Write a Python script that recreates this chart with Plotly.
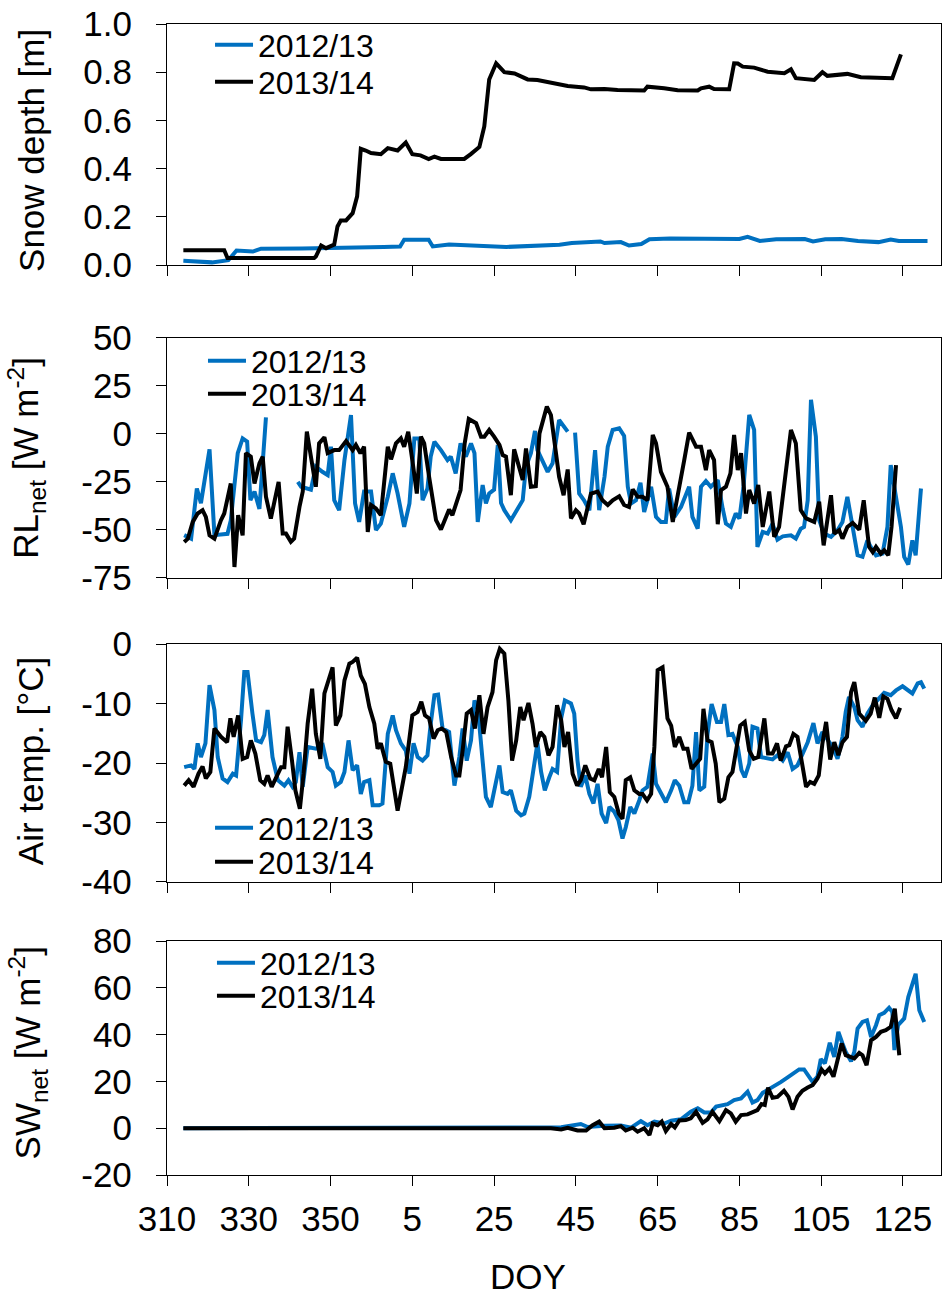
import plotly.graph_objects as go

BLUE = "#0070C0"
BLACK = "#000000"
FONT = "Liberation Sans, Arial, sans-serif"

SEASONS = ["2012/13", "2013/14"]
SEASON_COLORS = [BLUE, BLACK]

# x ticks, labelled by day of year (DOY)
DOY_TICKS = [310, 330, 350, 5, 25, 45, 65, 85, 105, 125]

# Series are (day, value) pairs. "day" is the day of year of the autumn,
# counted on past 365 into the new year (e.g. 370 = DOY 5).

# Snow depth [m]
SNOW_1213 = [
    (314, 0.018), (317, 0.016), (321, 0.011), (325, 0.02), (327, 0.06), (331, 0.056),
    (333, 0.068), (343, 0.069), (351, 0.07), (363, 0.075), (367, 0.077), (368, 0.105),
    (374, 0.105), (375, 0.077), (379, 0.085), (387, 0.08), (393, 0.075), (406, 0.084),
    (409, 0.091), (416, 0.098), (417, 0.091), (421, 0.095), (423, 0.081), (426, 0.087),
    (428, 0.107), (433, 0.11), (446, 0.108), (450, 0.108), (452, 0.117), (455, 0.1),
    (459, 0.107), (466, 0.108), (468, 0.098), (471, 0.107), (475, 0.108), (479, 0.1),
    (484, 0.095), (487, 0.106), (489, 0.1), (496, 0.1),
]
SNOW_1314 = [
    (314, 0.061), (324, 0.061), (324.8, 0.029), (346, 0.029), (346.4, 0.035), (347.7, 0.081),
    (348.9, 0.07), (350.1, 0.08), (350.9, 0.085), (351.7, 0.16), (352.5, 0.185), (353.8, 0.185),
    (355.4, 0.215), (356.5, 0.285), (357.4, 0.482), (358.6, 0.475), (359.9, 0.465), (362.3, 0.46),
    (364, 0.485), (366.4, 0.475), (368.4, 0.508), (370, 0.46), (372, 0.455), (374, 0.44),
    (375.4, 0.45), (377, 0.44), (382.7, 0.44), (384.3, 0.46), (386.4, 0.49), (387.6, 0.575),
    (388.8, 0.77), (390.5, 0.837), (392.5, 0.80), (395, 0.795), (398.2, 0.77), (400.6, 0.768),
    (403.1, 0.76), (408, 0.743), (412, 0.737), (413.7, 0.729), (417, 0.73), (420.2, 0.726),
    (426.7, 0.724), (427.5, 0.74), (431.6, 0.733), (434.9, 0.725), (439.8, 0.724), (440.6, 0.733),
    (442.6, 0.74), (443.8, 0.73), (447.5, 0.729), (448.7, 0.837), (449.6, 0.836), (450.8, 0.823),
    (453.6, 0.819), (456.9, 0.802), (461, 0.796), (462.6, 0.812), (463.8, 0.775), (468.3, 0.768),
    (470.3, 0.80), (471.5, 0.785), (476.4, 0.793), (479.7, 0.779), (487.4, 0.775), (489.5, 0.874),
]

# Net longwave radiation [W m-2]; None marks missing days
RL_1213 = [
    (314.2, -52.7), (315.9, -54.5), (317.3, -28.4), (318.3, -36), (320.4, -8), (321.6, -52.7),
    (324.8, -52), (325.6, -45), (327.3, -10), (328.5, -2.3), (329.6, -4), (330.4, -34.5),
    (331.4, -30), (332.6, -39), (334.2, 8.7), (338, None), (342, -25), (342.8, -27.5),
    (345.2, -29), (346.4, -17), (348, -19.7), (349.3, -21.4), (350.1, -6.6), (350.9, -34.5),
    (352.1, -39.7), (353.4, -13.6), (355, 9.9), (356, -36.2), (357, -45.8), (358.2, -30),
    (359.9, -30), (361.1, -50), (362.3, -46.7), (364, -32.7), (365.2, -20.5), (366.4, -31),
    (368, -48.4), (369.3, -36.2), (370.5, -2.3), (371.7, -2.3), (372.5, -34.5), (373.7, -28.4),
    (374.5, -11.8), (375.4, -4), (377, -8.4), (378.6, -13.6), (379.4, -11.8), (380.6, -20.5),
    (381.8, -4.9), (383.1, -11.8), (384.35, -4.9), (385.2, -10), (386, -45.8), (387.2, -26.6),
    (388, -36.2), (388.8, -31), (390, -29), (390.9, -5.7), (391.7, -36), (392.5, -39.7),
    (394.1, -44.9), (397, -34.5), (397.8, -17), (399, -10), (400, 1.6), (400.6, -8.4),
    (403.1, -19.7), (404.3, -15.3), (405.9, 7.3), (408, 1.2), (409, None), (409.8, 0.7),
    (410.8, -31), (412, -34.5), (413.3, -39.7), (414.7, -8.4), (415.7, -39.7), (417, -22.3),
    (417.8, -6.6), (419, 2.1), (420.6, 3), (421.8, -1), (422.7, -27.5), (423.5, -36.2),
    (424.7, -34.5), (425.8, -25.4), (426.7, -40.6), (428.4, -27.5), (429.6, -43.2), (430.8, -45.8),
    (432, -45.8), (432.8, -28.4), (434.1, -43.2), (435.7, -38), (437.7, -27.5), (438.5, -43.2),
    (439.8, -49.3), (440.6, -27.5), (441.8, -24.5), (443, -27.5), (444.7, -24), (445.9, -38.8),
    (446.7, -46.7), (447.9, -48.4), (449.1, -41.4), (450, -44), (451, -27.5), (452.4, 9.9),
    (453.6, 2.1), (454.4, -58.8), (455.7, -51), (456.9, -51.9), (458.1, -46.7), (459.3, -55),
    (460.6, -53.3), (462.6, -52.8), (463.8, -54.5), (465, -49.3), (465.8, -48.4), (466.7, -34.5),
    (467.5, 17.8), (468.7, -1.4), (469.5, -44.9), (470.7, -51.9), (472.4, -53.6), (474, -50.1),
    (475.2, -45.8), (476.4, -32.7), (477.7, -48.4), (478.9, -63.2), (480.1, -64), (481.3, -55.4),
    (482.1, -58.8), (483.4, -63.2), (485, -62.3), (486.2, -48.4), (487, -16.2), (488.3, -32.7),
    (489.5, -48.4), (490.3, -64), (491.3, -68), (492.3, -55.4), (493.1, -63.2), (494.4, -28.4),
]
RL_1314 = [
    (314.2, -56.2), (315.1, -54.5), (316.3, -45.8), (317.5, -41.4), (318.7, -39.7), (319.5, -43.2),
    (320.4, -52.8), (321.6, -54.5), (323.2, -44.9), (324, -41.4), (325.6, -25.8), (326.5, -69.3),
    (327.4, -42.3), (328.5, -52.8), (329.3, -10), (330.5, -11.8), (331.4, -25.8), (332.6, -15.3),
    (333.4, -11.8), (334.2, -32.7), (335.4, -44), (336.2, -36.2), (337.3, -24.9), (338.3, -51.9),
    (339.1, -51.9), (340.3, -56.2), (341.1, -54.5), (342.4, -38), (343.2, -30), (344.2, 1.2),
    (345.2, -12.7), (346.4, -27.5), (347.2, -4.9), (348.5, -1.7), (349.3, -10), (350.9, -8.4),
    (352.1, -8.4), (353.8, -3.7), (355.4, -8.4), (356.2, -5.7), (357.3, -10), (358.2, -6.6),
    (359.1, -51), (359.9, -37), (361.1, -38.8), (362.3, -42.3), (364, -6.6), (364.8, -13.2),
    (366, -4.9), (367.2, -2.3), (368, -6.6), (369, 1.2), (370, -13.6), (371.1, -31),
    (372.1, -1.4), (372.9, -4.9), (374.1, -22.3), (375.8, -44.9), (377, -49.8), (379, -39.3),
    (379.8, -42.3), (381.8, -29.2), (382.8, -4.9), (383.8, 7.8), (385.6, 5.6), (386.8, -1.4),
    (387.6, -1.4), (388.8, 2.1), (390, -1.4), (391.3, -5.7), (392.1, -11), (392.9, -11.8),
    (394.1, -31.9), (394.9, -8), (397, -24), (397.8, -7.5), (399, -27.5), (400.2, -27.2),
    (401.1, 0.3), (402.9, 14.3), (403.9, 9.9), (405.1, -11.8), (405.9, -22.3), (407, -31.9),
    (408, -18.5), (408.8, -44), (410, -39.7), (410.8, -41.4), (411.9, -47), (413.7, -31),
    (415.3, -30), (416.5, -34.5), (417.8, -37), (419, -34.5), (420.6, -32.4), (421.8, -37),
    (423, -38), (423.9, -28.9), (425.1, -32.7), (426.3, -32.7), (427.5, -34.5), (428.8, -0.5),
    (429.6, -4.9), (430.8, -19.7), (432.4, -27.5), (433.7, -45.8), (435.3, -28.4), (436.5, -13.6),
    (437.7, 0.7), (439.4, -6.6), (440.6, -6.6), (441.8, -18.8), (442.6, -8.4), (443.8, -13.6),
    (444.7, -47), (445.5, -29.2), (446.7, -27.5), (447.8, -20.5), (448.7, -0.5), (449.6, -18.8),
    (450.4, -10), (451.6, -41.4), (452.4, -29.2), (453.6, -36.2), (454.6, -26.6), (455.7, -48.4),
    (457.3, -30), (458.5, -53.6), (459.7, -48.4), (461, -24), (462.6, 2.1), (463.8, -4.9),
    (465, -39.7), (466.3, -44), (468.3, -45.8), (469.5, -35.3), (470.6, -58), (472.4, -31.9),
    (473.2, -51.9), (474.4, -50.1), (475.2, -54.5), (476.4, -48.4), (477.7, -46.3), (479.3, -49.8),
    (480.4, -34.5), (481.7, -58.8), (482.6, -61.5), (483.4, -58.8), (484.6, -62.3), (485.4, -60.6),
    (486.4, -63.2), (487.2, -48.4), (488.3, -16.2),
]

# Air temperature [°C]
TA_1213 = [
    (314.2, -20.7), (315.9, -20.4), (316.7, -21), (317.5, -16.7), (318.3, -19), (319.4, -16.7),
    (320.4, -6.9), (321.6, -11.1), (322.4, -19), (323.6, -22.6), (324.8, -23.2), (326.1, -21.8),
    (326.9, -22.1), (328.1, -12.8), (328.9, -4.7), (329.7, -4.7), (330.9, -11.7), (331.8, -16.2),
    (333, -16.5), (333.8, -15.3), (334.6, -11.1), (335.8, -19), (337.1, -22.9), (338.7, -23.8),
    (339.7, -22.9), (340.7, -24), (341.5, -23.2), (342.4, -18.2), (343.2, -24), (344.4, -17.3),
    (346.4, -17.6), (348.1, -17), (349.3, -20.7), (350.5, -21.5), (351.3, -23.8), (352.5, -23.2),
    (353.4, -21.5), (354.4, -16.2), (355.4, -21.2), (356.5, -20.4), (357.4, -25.2), (358.2, -23.2),
    (359.5, -22.9), (360.3, -27.1), (361.9, -27.1), (362.7, -26.8), (364, -15.1), (365.2, -12),
    (366, -14.5), (367.2, -16.7), (368.4, -17.9), (369.3, -21.8), (370.3, -16.7), (371.3, -19),
    (372.5, -19.6), (373.7, -18.7), (374.5, -13.4), (375.4, -8.6), (376.3, -8.5), (377.4, -14.2),
    (379, -14.8), (380.3, -23.8), (381.5, -19), (382.3, -14.2), (383.3, -19.6), (384.35, -16.2),
    (385.2, -9.5), (386, -10.6), (386.8, -16.7), (388, -25.7), (389.2, -27.4), (390.5, -23.2),
    (391.3, -20.4), (392.1, -24.9), (393.3, -25.2), (394.1, -24.6), (395.4, -28), (396.6, -28.8),
    (397.4, -28.5), (398.6, -25.7), (399.8, -19.8), (400.6, -16.7), (401.5, -21.5), (402.4, -24.6),
    (403.5, -22.4), (404.3, -21), (405.4, -21.5), (406.4, -12.5), (407.3, -9.5), (408.8, -10),
    (409.6, -11.7), (410.4, -19.6), (411.2, -24), (412.3, -22.1), (413.3, -25.2), (414.3, -26.8),
    (415.3, -23.5), (416.3, -28.5), (417.4, -30.1), (418.2, -27.4), (419.4, -28.2), (420.4, -29.6),
    (421.4, -32.7), (422.2, -30.8), (423.3, -27.4), (424.3, -28.5), (425.5, -26.3), (426.3, -24.6),
    (427.5, -24), (428.8, -18.4), (429.6, -23.5), (430.8, -25.2), (432, -26.6), (433.3, -24.6),
    (434.2, -22.9), (435.3, -23.8), (436.5, -26.6), (437.5, -26.6), (438.5, -23.8), (439.4, -14.8),
    (440.2, -24.6), (441.4, -24), (442.2, -15.1), (443.2, -10.1), (444.5, -13.1), (445.5, -13.1),
    (446.3, -10.1), (447.3, -15.3), (448.3, -15.1), (449.6, -17.3), (450.5, -21.2), (451.3, -22.4),
    (452.4, -20.1), (453.2, -13.9), (454.4, -14.2), (455.3, -19), (456.9, -19.3), (458.1, -19.4),
    (459.3, -18.7), (460.6, -19.6), (461.8, -18.2), (463, -21), (464.2, -20.4), (465.4, -18.4),
    (466.7, -16.5), (468.1, -13.3), (469.1, -16.7), (470.3, -14.8), (471.6, -16.2), (472.8, -17.3),
    (474, -19.3), (475.2, -15.6), (476, -11.4), (476.8, -8.9), (478.1, -10.6), (478.9, -12.8),
    (480.1, -13.9), (481.3, -11.7), (482.6, -10.3), (483.8, -9.5), (485.4, -8.2), (487, -8.6),
    (488.3, -7.8), (489.9, -7.1), (491.1, -7.7), (492.3, -8.3), (493.6, -6.6), (494.4, -6.4),
    (495.2, -7.5),
]
TA_1314 = [
    (314.2, -23.8), (315.3, -22.9), (316.5, -24), (317.7, -21.8), (318.7, -20.6), (319.5, -22.6),
    (320.6, -21.5), (321.6, -14.2), (323.2, -15.6), (324.7, -16.5), (325.5, -12.5), (326.3, -15.6),
    (327.4, -12), (328.5, -19.3), (329.6, -19), (330.5, -16.2), (331.6, -18.4), (332.8, -22.9),
    (333.8, -23.5), (334.6, -22.1), (335.6, -24), (336.7, -22.4), (337.9, -20.7), (338.7, -20.7),
    (339.5, -13.9), (340.6, -19.8), (341.4, -24.6), (342.5, -27.7), (343.4, -21.8), (344.4, -13.4),
    (345.5, -7.5), (346.4, -15.1), (347.5, -19.3), (348.5, -8.3), (349.7, -5.8), (350.5, -3.9),
    (351.3, -13.7), (352.4, -12), (353.4, -6.1), (354.6, -3.3), (355.4, -3), (356.5, -2.3),
    (357.4, -5.3), (358.4, -6.7), (359.5, -10.6), (360.7, -13.4), (361.5, -17.6), (362.3, -16.7),
    (363.5, -19.8), (364.6, -20.1), (366.4, -28), (368.4, -20.7), (370, -12), (371.3, -11.4),
    (372.2, -9.7), (373.1, -12), (374.1, -12.5), (375.2, -15.9), (376.2, -14.5), (377.2, -14.2),
    (378.3, -14.8), (379.5, -19), (380.7, -22.1), (381.5, -22.1), (382.3, -17.9), (383.3, -11.7),
    (384.35, -11.1), (385.3, -14.2), (386.4, -8.6), (387.4, -15.1), (388.4, -10.6), (389.6, -8.1),
    (390.5, -2.7), (391.4, -0.8), (392.5, -1.6), (393.5, -9.5), (394.4, -19.6), (395.4, -16.2),
    (396.4, -10.6), (397.2, -12.8), (398.4, -9.9), (399.4, -13.4), (400.2, -17.3), (401.3, -14.8),
    (402.3, -15.6), (403.3, -18.7), (404.3, -17.3), (405.4, -10.3), (406.4, -12.8), (407.2, -17.3),
    (408.1, -14.8), (409.2, -21.8), (410.3, -23.8), (411.2, -22.9), (412.3, -20.4), (413.5, -22.6),
    (414.5, -22.9), (415.6, -21), (416.4, -22.4), (417.4, -17.3), (418.3, -24.9), (419.4, -25.7),
    (420.5, -28.5), (421.4, -29.4), (422.2, -22.9), (423.3, -22.4), (424.3, -24.6), (425.5, -25.2),
    (426.3, -25.2), (427.4, -26.3), (428.4, -25.2), (429.2, -17.3), (430, -4.4), (431.2, -3.9),
    (432.4, -12.5), (433.3, -13.7), (434.2, -17.3), (435.3, -15.6), (436.3, -17.6), (437.3, -17.6),
    (438.3, -21), (439.4, -20.1), (440.4, -19.3), (441.2, -10.9), (442.2, -16.2), (443.2, -16.5),
    (444.2, -20.1), (445.1, -26.6), (446.3, -26), (447.3, -22.4), (448.3, -21.5), (449.4, -17),
    (450.2, -13.7), (451.3, -13.1), (452.4, -17.9), (453.5, -19.3), (454.6, -19), (456.1, -12.5),
    (457, -18.4), (458.1, -18.4), (459.2, -16.7), (460.1, -19.6), (461.4, -17.2), (462.2, -17),
    (463.2, -15.1), (464.2, -15.6), (465.2, -19.6), (466.3, -24), (467.3, -23.2), (468.3, -23.5),
    (469.4, -22.1), (470.3, -16.7), (471.2, -13.1), (472.2, -19.4), (473.2, -16.5), (474.2, -18.7),
    (475.2, -16.5), (476.3, -15.6), (477.3, -8.1), (478.1, -6.4), (479.3, -11.7), (480.9, -12.9),
    (482.1, -11.7), (483.1, -9), (484.2, -12.4), (485.2, -8.8), (486.2, -9.2), (487.2, -11.1),
    (488.3, -12.5), (489.3, -10.7),
]

# Net shortwave radiation [W m-2]
SW_1213 = [
    (314, 0), (402.3, 0), (406.4, 0.4), (411.2, 1.8), (412.9, 0.5), (417, 1), (421, 1.2),
    (423.5, 0.2), (425.9, 3), (427.5, 1.3), (429.2, 2.8), (431.6, 2), (433.3, 3.2), (435.7, 3.8),
    (438.1, 7), (439.8, 8.5), (441.4, 6.7), (443, 6.7), (444.3, 9.2), (447.1, 10.3), (448.7, 12),
    (450.4, 12.7), (452, 15.6), (453.2, 11), (454.4, 12), (455.7, 15.1), (456.9, 16.3), (458.5, 18),
    (460.1, 19.7), (461.8, 21.7), (463, 23), (464.6, 25.1), (465.8, 25.1), (466.7, 22.7),
    (467.9, 19.8), (469.1, 22), (469.9, 29.5), (470.9, 27.7), (472.1, 36.5), (473.2, 30.5),
    (474.2, 41.2), (475.2, 36.2), (476, 32.6), (477.3, 28.6), (478.1, 32.6), (478.9, 42.6),
    (480.1, 45.4), (481.2, 46.1), (482.2, 39), (483.4, 44), (484.2, 48.3), (485.4, 49.3),
    (486.6, 51.5), (487.4, 49.7), (487.9, 33.4), (488.8, 44), (490.3, 46.9), (491.3, 56.1),
    (493.1, 66), (494, 50.4), (495.2, 45.4),
]
SW_1314 = [
    (314, 0), (403.9, 0), (406.4, -0.5), (408, 0.2), (410.4, -1), (412.5, -1), (414.1, 1.3),
    (415.7, 2.8), (417, 0), (419.4, 0.2), (421, 0.9), (422.2, -1), (423.9, 0.2), (425.1, -1.5),
    (426.7, 0), (428, -2.9), (428.8, 2), (430, 1.3), (431, 2.8), (432, -1.2), (433.3, 1.8),
    (434.2, 0.3), (435.3, 3.3), (436.9, 3.5), (438.1, 4.2), (439.4, 7), (441, 2.3), (442.2, 3.8),
    (443.4, 7), (445.1, 3), (446.7, 7.7), (447.9, 6.3), (449.1, 2.8), (450.4, 5.6), (452, 5.9),
    (453.2, 6.6), (454.4, 7.7), (455.4, 10.3), (456.2, 9.9), (457, 17.3), (458.1, 13),
    (459.3, 13.4), (460.9, 16), (462, 13.4), (463, 8), (464.2, 13.4), (465.4, 16), (466.7, 17.4),
    (467.9, 18.4), (469.1, 21.2), (470.1, 25.1), (470.9, 23.4), (472, 25.5), (473, 22),
    (474, 29.1), (475, 36.2), (476, 31.2), (477.3, 30.5), (478.1, 29.8), (479.3, 32.2),
    (480.1, 31.2), (481.1, 26.9), (482.2, 37.6), (483.4, 39), (484.6, 41.2), (485.8, 41.9),
    (487, 43.3), (488, 51.1), (489.1, 31.2),
]

# y-axis ticks and labels of each panel
SNOW_TICKS = [0.0, 0.2, 0.4, 0.6, 0.8, 1.0]
SNOW_LABELS = ["0.0", "0.2", "0.4", "0.6", "0.8", "1.0"]
RL_TICKS = [-75, -50, -25, 0, 25, 50]
RL_LABELS = ["-75", "-50", "-25", "0", "25", "50"]
TA_TICKS = [-40, -30, -20, -10, 0]
TA_LABELS = ["-40", "-30", "-20", "-10", "0"]
SW_TICKS = [-20, 0, 20, 40, 60, 80]
SW_LABELS = ["-20", "0", "20", "40", "60", "80"]


def season_day(doy):
    return doy if doy >= 300 else doy + 365


# each panel has one small legend per season, stacked inside its top-left corner
panels = [
    dict(series=(SNOW_1213, SNOW_1314), title="Snow depth [m]",
         ticks=SNOW_TICKS, labels=SNOW_LABELS, domain=[0.7906, 1.0],
         title_xy=(-0.1744, 0.8897), legend_x=0.0556, legend_y=(0.9818, 0.9496)),
    dict(series=(RL_1213, RL_1314), title="RL<sub>net</sub> [W m<sup>-2</sup>]",
         ticks=RL_TICKS, labels=RL_LABELS, domain=[0.5187, 0.7272],
         title_xy=(-0.1825, 0.6229), legend_x=0.0465, legend_y=(0.7072, 0.6785)),
    dict(series=(TA_1213, TA_1314), title="Air temp. [°C]",
         ticks=TA_TICKS, labels=TA_LABELS, domain=[0.2546, 0.4613],
         title_xy=(-0.1755, 0.3597), legend_x=0.0556, legend_y=(0.3015, 0.2719)),
    dict(series=(SW_1213, SW_1314), title="SW<sub>net</sub> [W m<sup>-2</sup>]",
         ticks=SW_TICKS, labels=SW_LABELS, domain=[0.0, 0.2033],
         title_xy=(-0.1790, 0.1060), legend_x=0.0581, legend_y=(0.1842, 0.1555)),
]

fig = go.Figure()
x_ticks = [season_day(d) for d in DOY_TICKS]
x_labels = [str(d) for d in DOY_TICKS]
legend_layouts = {}
n_legend = 0

for i, p in enumerate(panels, start=1):
    sfx = "" if i == 1 else str(i)
    for season, color, pairs, ly in zip(SEASONS, SEASON_COLORS, p["series"], p["legend_y"]):
        n_legend += 1
        legend_name = "legend" if n_legend == 1 else f"legend{n_legend}"
        days = [d for d, _ in pairs]
        vals = [v for _, v in pairs]
        fig.add_trace(go.Scatter(
            x=days, y=vals, mode="lines", name=season,
            line=dict(color=color, width=4),
            xaxis="x" + sfx, yaxis="y" + sfx, legend=legend_name,
        ))
        legend_layouts[legend_name] = dict(
            x=p["legend_x"], y=ly, xanchor="left", yanchor="middle",
            bgcolor="rgba(0,0,0,0)", borderwidth=0, itemwidth=38,
            font=dict(size=32, color="black", family=FONT),
        )

    last = i == len(panels)
    fig.update_layout(**{
        "xaxis" + sfx: dict(
            domain=[0, 1], anchor="y" + sfx, range=[310, 499.3],
            tickmode="array", tickvals=x_ticks, ticktext=x_labels,
            showticklabels=last, ticks="outside", ticklen=10, tickwidth=1.3,
            tickcolor="black", showline=True, mirror=True, linecolor="black",
            linewidth=1.3, showgrid=False, zeroline=False,
            tickfont=dict(size=35, color="black", family=FONT),
            ticklabelstandoff=3,
            **({} if i == 1 else {"matches": "x"}),
        ),
        "yaxis" + sfx: dict(
            domain=p["domain"], anchor="x" + sfx,
            range=[p["ticks"][0], p["ticks"][-1]],
            tickmode="array", tickvals=p["ticks"], ticktext=p["labels"],
            ticks="outside", ticklen=10, tickwidth=1.3, tickcolor="black",
            showline=True, mirror=True, linecolor="black", linewidth=1.3,
            showgrid=False, zeroline=False,
            tickfont=dict(size=35, color="black", family=FONT),
            ticklabelstandoff=17,
        ),
    })
    fig.add_annotation(
        text=p["title"], xref="paper", yref="paper",
        x=p["title_xy"][0], y=p["title_xy"][1], xanchor="center", yanchor="middle",
        textangle=-90, showarrow=False,
        font=dict(size=35, color="black", family=FONT),
    )

fig.update_layout(**legend_layouts)

fig.add_annotation(
    text="DOY", xref="paper", yref="paper", x=0.466, y=-0.0886,
    xanchor="center", yanchor="middle", showarrow=False,
    font=dict(size=35, color="black", family=FONT),
)

fig.update_layout(
    width=943, height=1297,
    margin=dict(l=167, r=2, t=24, b=122),
    paper_bgcolor="white", plot_bgcolor="white",
    font=dict(family=FONT, color="black"),
    showlegend=True,
)

fig.write_html("out.html")
